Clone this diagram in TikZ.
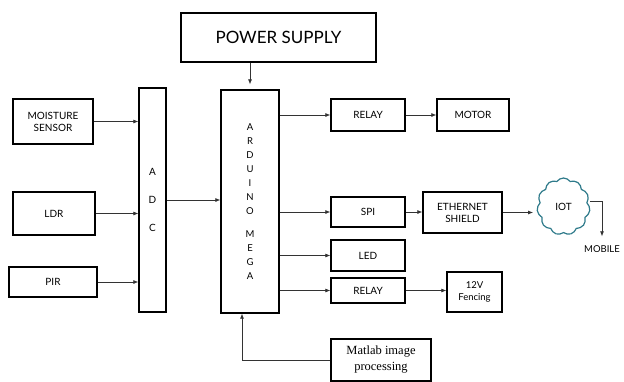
\documentclass[tikz,border=0pt]{standalone}
\usepackage{fontspec}
\setmainfont{Lato}
\newfontfamily\serifbox{Liberation Serif}
\usepackage{xcolor}
\definecolor{cloudTeal}{HTML}{2E7A8A}
\definecolor{lineGray}{HTML}{333333}
\usetikzlibrary{arrows.meta,shapes.symbols}
\tikzset{
  blk/.style={draw=black, line width=1.3pt, fill=white, inner sep=1pt, align=center, font=\fontsize{10}{12}\selectfont},
  arr/.style={draw=lineGray, line width=0.7pt, -{Latex[length=5pt,width=4pt]}},
  wire/.style={draw=lineGray, line width=0.7pt}
}

\begin{document}
\begin{tikzpicture}[x=1pt, y=-1pt]
  \useasboundingbox (0,0) rectangle (624,381);
  \node[blk, minimum width=195pt, minimum height=49pt, font=\fontsize{17}{20}\selectfont] (PS) at (278.5,37.5) {POWER SUPPLY};
  \node[blk, minimum width=58pt, minimum height=223pt, font=\fontsize{9.5}{14}\selectfont] (ARD) at (250,201.5) {A\\R\\D\\U\\I\\N\\O\\[9pt]M\\E\\G\\A};
  \node[blk, minimum width=27pt, minimum height=224pt, font=\fontsize{10}{28}\selectfont] (ADC) at (152.5,200) {A\\D\\C};
  \node[blk, minimum width=80pt, minimum height=45pt] (MS) at (53,121.5) {MOISTURE\\SENSOR};
  \node[blk, minimum width=82pt, minimum height=43pt] (LDR) at (54,213.5) {LDR};
  \node[blk, minimum width=88pt, minimum height=30pt] (PIR) at (53,282) {PIR};
  \node[blk, minimum width=74pt, minimum height=32pt] (R1) at (368,115) {RELAY};
  \node[blk, minimum width=72pt, minimum height=32pt] (MOT) at (473,115) {MOTOR};
  \node[blk, minimum width=74pt, minimum height=30pt] (SPI) at (368,212) {SPI};
  \node[blk, minimum width=79pt, minimum height=41pt] (ETH) at (462.5,212.5) {ETHERNET\\SHIELD};
  \node[cloud, cloud puffs=11, cloud puff arc=110, draw=cloudTeal, line width=1.2pt, fill=white, minimum width=53pt, minimum height=57pt, inner sep=0pt, font=\fontsize{10}{12}\selectfont] (IOT) at (563.5,206.5) {IOT\\[10pt]};
  \node[font=\fontsize{9.5}{12}\selectfont, inner sep=1pt] (MOB) at (602,249) {MOBILE};
  \node[blk, minimum width=74pt, minimum height=31pt] (LED) at (368,255.5) {LED};
  \node[blk, minimum width=74pt, minimum height=25pt] (R2) at (368,290.5) {RELAY};
  \node[blk, minimum width=55pt, minimum height=40pt, font=\fontsize{9.5}{12}\selectfont] (FEN) at (474.5,292) {12V\\Fencing};
  \node[blk, minimum width=100pt, minimum height=42pt, font=\serifbox\fontsize{12.5}{16}\selectfont] (MAT) at (381,360) {Matlab image\\processing};
  \draw[arr, shorten >=5pt] (PS.south -| ARD) -- (ARD.north);
  \draw[arr] (MS.east) -- (MS.east -| ADC.west);
  \draw[arr] (LDR.east) -- (LDR.east -| ADC.west);
  \draw[arr] (PIR.east) -- (PIR.east -| ADC.west);
  \draw[arr] (ADC.east) -- (ADC.east -| ARD.west);
  \draw[arr] (ARD.east |- R1) -- (R1.west);
  \draw[arr] (R1.east) -- (MOT.west);
  \draw[arr] (ARD.east |- SPI) -- (SPI.west);
  \draw[arr] (SPI.east) -- (SPI.east -| ETH.west);
  \draw[arr, shorten >=4pt] (ETH.east) -- (ETH.east -| IOT.west);
  \draw[arr, shorten >=8pt] ([yshift=5pt]IOT.east) -| (MOB.north);
  \draw[arr] (ARD.east |- LED) -- (LED.west);
  \draw[arr] (ARD.east |- R2) -- (R2.west);
  \draw[arr] (R2.east) -- (R2.east -| FEN.west);
  \draw[arr] (MAT.west) -| ([xshift=-8pt]ARD.south);
\end{tikzpicture}
\end{document}
